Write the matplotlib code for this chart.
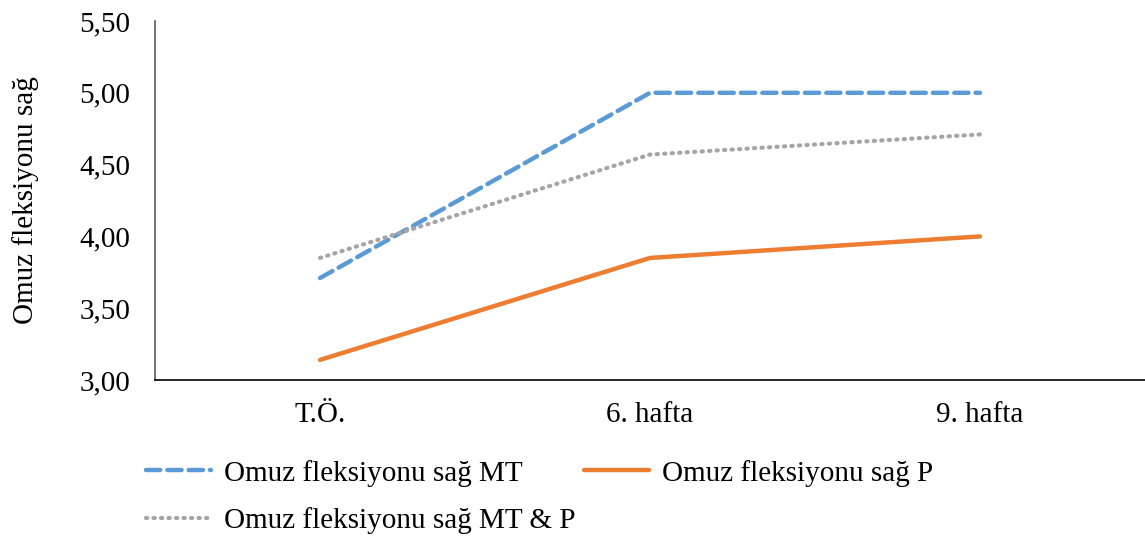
import matplotlib
matplotlib.use("Agg")
import matplotlib.pyplot as plt

plt.rcParams['font.family'] = ['Liberation Serif', 'DejaVu Serif']

categories = ["T.Ö.", "6. hafta", "9. hafta"]
mt = [3.71, 5.00, 5.00]
p = [3.14, 3.85, 4.00]
mt_p = [3.85, 4.57, 4.71]
y_ticks = [3.00, 3.50, 4.00, 4.50, 5.00, 5.50]

fs = 21

fig = plt.figure(figsize=(11.45, 5.37), dpi=100)
ax = fig.add_axes([155 / 1145, 1 - 380 / 537, 1 - 155 / 1145, (380 - 21) / 537])

x = range(len(categories))
l1, = ax.plot(x, mt, color="#5b9bd5", lw=3.2, ls=(0, (3.2, 1.6)),
              dash_capstyle="round", label="Omuz fleksiyonu sağ MT")
l2, = ax.plot(x, p, color="#ed7d31", lw=3.2, solid_capstyle="round",
              label="Omuz fleksiyonu sağ P")
l3, = ax.plot(x, mt_p, color="#a5a5a5", lw=3.0, ls=(0, (0.3, 1.5)),
              dash_capstyle="round", label="Omuz fleksiyonu sağ MT & P")

ax.set_xlim(-0.5, 2.5)
ax.set_ylim(3.0, 5.5)
ax.set_xticks(list(x))
ax.set_xticklabels(categories, fontsize=fs)
ax.set_yticks(y_ticks)
ax.set_yticklabels([f"{v:.2f}".replace(".", ",") for v in y_ticks], fontsize=fs)
ax.tick_params(length=0)
ax.tick_params(axis="x", pad=16)
ax.tick_params(axis="y", pad=18)
ax.set_ylabel("Omuz fleksiyonu sağ", fontsize=fs)
ax.yaxis.set_label_coords(-116 / 990, 0.5)

for s in ["top", "right"]:
    ax.spines[s].set_visible(False)
ax.spines["left"].set_color("#595959")
ax.spines["left"].set_linewidth(1.2)
ax.spines["bottom"].set_color("#000000")
ax.spines["bottom"].set_linewidth(1.2)

# matplotlib fills legend columns first, so MT & P goes second
fig.legend(handles=[l1, l3, l2], loc="upper left", ncol=2,
           bbox_to_anchor=(134 / 1145, 1 - 448 / 537), frameon=False,
           fontsize=fs, handlelength=2.25, handletextpad=0.42,
           columnspacing=0.3, labelspacing=0.7, borderaxespad=0)

fig.savefig("out.png", dpi=100)
